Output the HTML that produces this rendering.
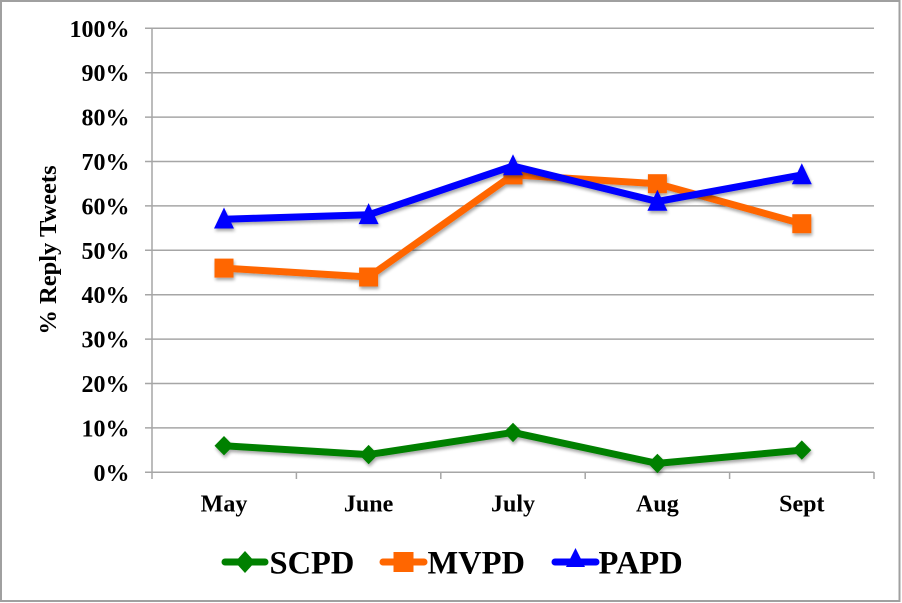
<!DOCTYPE html>
<html><head><meta charset="utf-8"><style>
html,body{margin:0;padding:0;background:#fff;}
svg{display:block;}
text{font-family:"Liberation Serif",serif;font-weight:bold;fill:#000;}
</style></head><body>
<svg width="902" height="603" viewBox="0 0 902 603" xmlns="http://www.w3.org/2000/svg">
<defs>
<filter id="sh" x="-20%" y="-20%" width="140%" height="160%">
<feGaussianBlur in="SourceAlpha" stdDeviation="1.5"/>
<feOffset dx="1" dy="2.5" result="o"/>
<feComponentTransfer><feFuncA type="linear" slope="0.35"/></feComponentTransfer>
<feMerge><feMergeNode/><feMergeNode in="SourceGraphic"/></feMerge>
</filter>
</defs>
<rect x="1" y="1" width="898.5" height="600" fill="#fff" stroke="#a0a0a0" stroke-width="2"/>
<g stroke="#a6a6a6" stroke-width="1.5">
<line x1="145" y1="28.3" x2="874" y2="28.3"/>
<line x1="145" y1="72.7" x2="874" y2="72.7"/>
<line x1="145" y1="117.1" x2="874" y2="117.1"/>
<line x1="145" y1="161.5" x2="874" y2="161.5"/>
<line x1="145" y1="205.9" x2="874" y2="205.9"/>
<line x1="145" y1="250.3" x2="874" y2="250.3"/>
<line x1="145" y1="294.7" x2="874" y2="294.7"/>
<line x1="145" y1="339.1" x2="874" y2="339.1"/>
<line x1="145" y1="383.5" x2="874" y2="383.5"/>
<line x1="145" y1="427.9" x2="874" y2="427.9"/>
<line x1="145" y1="472.3" x2="874" y2="472.3"/>
<line x1="152" y1="28.3" x2="152" y2="479"/>
<line x1="296.4" y1="472" x2="296.4" y2="479"/>
<line x1="440.8" y1="472" x2="440.8" y2="479"/>
<line x1="585.2" y1="472" x2="585.2" y2="479"/>
<line x1="729.6" y1="472" x2="729.6" y2="479"/>
<line x1="874" y1="472" x2="874" y2="479"/>
</g>
<g font-size="24" text-anchor="end">
<text x="129.5" y="36.8">100%</text>
<text x="129.5" y="81.2">90%</text>
<text x="129.5" y="125.6">80%</text>
<text x="129.5" y="170">70%</text>
<text x="129.5" y="214.4">60%</text>
<text x="129.5" y="258.8">50%</text>
<text x="129.5" y="303.2">40%</text>
<text x="129.5" y="347.6">30%</text>
<text x="129.5" y="392">20%</text>
<text x="129.5" y="436.4">10%</text>
<text x="129.5" y="480.8">0%</text>
</g>
<g font-size="24" text-anchor="middle">
<text x="224" y="511.5">May</text>
<text x="368.6" y="511.5">June</text>
<text x="513" y="511.5">July</text>
<text x="657.4" y="511.5">Aug</text>
<text x="801.8" y="511.5">Sept</text>
</g>
<text font-size="24.5" text-anchor="middle" transform="translate(56,250) rotate(-90)">% Reply Tweets</text>

<!-- SCPD -->
<g filter="url(#sh)">
<polyline points="224,445.7 368.6,454.6 513,432.4 657.4,463.4 801.8,450.1" fill="none" stroke="#008000" stroke-width="7" stroke-linejoin="round" stroke-linecap="round"/>
<g fill="#008000">
<path d="M224,436 L233.5,445.7 L224,455.4 L214.5,445.7Z"/>
<path d="M368.6,444.9 L378.1,454.6 L368.6,464.3 L359.1,454.6Z"/>
<path d="M513,422.7 L522.5,432.4 L513,442.1 L503.5,432.4Z"/>
<path d="M657.4,453.7 L666.9,463.4 L657.4,473.1 L647.9,463.4Z"/>
<path d="M801.8,440.4 L811.3,450.1 L801.8,459.8 L792.3,450.1Z"/>
</g>
</g>
<!-- MVPD -->
<g filter="url(#sh)">
<polyline points="224,268.1 368.6,277 513,174.9 657.4,183.7 801.8,223.7" fill="none" stroke="#ff6600" stroke-width="7" stroke-linejoin="round" stroke-linecap="round"/>
<g fill="#ff6600">
<rect x="214.5" y="258.6" width="19" height="19"/>
<rect x="359.1" y="267.5" width="19" height="19"/>
<rect x="503.5" y="165.4" width="19" height="19"/>
<rect x="647.9" y="174.2" width="19" height="19"/>
<rect x="792.3" y="214.2" width="19" height="19"/>
</g>
</g>
<!-- PAPD -->
<g filter="url(#sh)">
<polyline points="224,219.2 368.6,214.8 513,166 657.4,201.5 801.8,174.9" fill="none" stroke="#0000ff" stroke-width="7" stroke-linejoin="round" stroke-linecap="round"/>
<g fill="#0000ff">
<path d="M224,207.5 L234,228.5 L214,228.5Z"/>
<path d="M368.6,203.1 L378.6,224.1 L358.6,224.1Z"/>
<path d="M513,154.3 L523,175.3 L503,175.3Z"/>
<path d="M657.4,189.8 L667.4,210.8 L647.4,210.8Z"/>
<path d="M801.8,163.2 L811.8,184.2 L791.8,184.2Z"/>
</g>
</g>

<!-- legend -->
<g>
<line x1="225" y1="562" x2="265" y2="562" stroke="#008000" stroke-width="7" stroke-linecap="round"/>
<path d="M245,551 L255,562 L245,573 L235,562Z" fill="#008000"/>
<text x="269.5" y="573.5" font-size="32.5">SCPD</text>
<line x1="383" y1="562" x2="424" y2="562" stroke="#ff6600" stroke-width="7" stroke-linecap="round"/>
<rect x="393.5" y="552" width="20" height="20" fill="#ff6600"/>
<text x="427.5" y="573.5" font-size="32.5">MVPD</text>
<line x1="555" y1="562" x2="596" y2="562" stroke="#0000ff" stroke-width="7" stroke-linecap="round"/>
<path d="M575.5,548 L585,567 L566,567Z" fill="#0000ff"/>
<text x="598.5" y="573.5" font-size="32.5">PAPD</text>
</g>
</svg>
</body></html>
